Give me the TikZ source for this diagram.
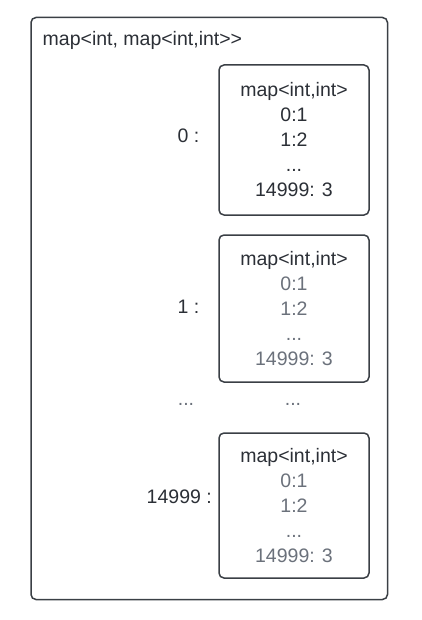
\documentclass[tikz,border=0pt]{standalone}
\usepackage{fontspec}
\setmainfont{Liberation Sans}
\definecolor{ink}{HTML}{2B2F36}
\definecolor{soft}{HTML}{6B717B}
\definecolor{edge}{HTML}{3A3F45}
\begin{document}
\begin{tikzpicture}[x=1pt,y=-1pt,
  every node/.style={font=\fontsize{19.5}{25}\selectfont, text=ink, inner sep=0pt},
  outerbox/.style={draw=edge, line width=1.5pt, rounded corners=5pt},
  mapbox/.style={draw=edge, line width=1.5pt, rounded corners=5pt, minimum width=150pt, align=center},
  keylabel/.style={anchor=base east}]
\useasboundingbox (0,0) rectangle (422,620);
\draw[outerbox] (31,17.5) rectangle (387.5,599.5);
\node[anchor=base west] (title) at (42.5,45.7) {map<int, map<int,int>\kern0pt>};
\node[mapbox, minimum height=150pt] (m0) at (294,140) {map<int,int>\\0:1\\1:2\\...\\14999: 3};
\node[mapbox, minimum height=147pt] (m1) at (294,308.5) {map<int,int>\\\textcolor{soft}{0:1}\\\textcolor{soft}{1:2}\\\textcolor{soft}{...}\\\textcolor{soft}{14999: 3}};
\node[mapbox, minimum height=145pt] (m2) at (294,505.5) {map<int,int>\\\textcolor{soft}{0:1}\\\textcolor{soft}{1:2}\\\textcolor{soft}{...}\\\textcolor{soft}{14999: 3}};
\node[keylabel] (k0) at (199.5,143) {0 :};
\node[keylabel] (k1) at (199.5,313) {1 :};
\node[keylabel] (k2) at (212,503) {14999 :};
\node[anchor=base, text=soft] (dl) at (186,405.5) {...};
\node[anchor=base, text=soft] (dr) at (293,405.5) {...};
\end{tikzpicture}
\end{document}
